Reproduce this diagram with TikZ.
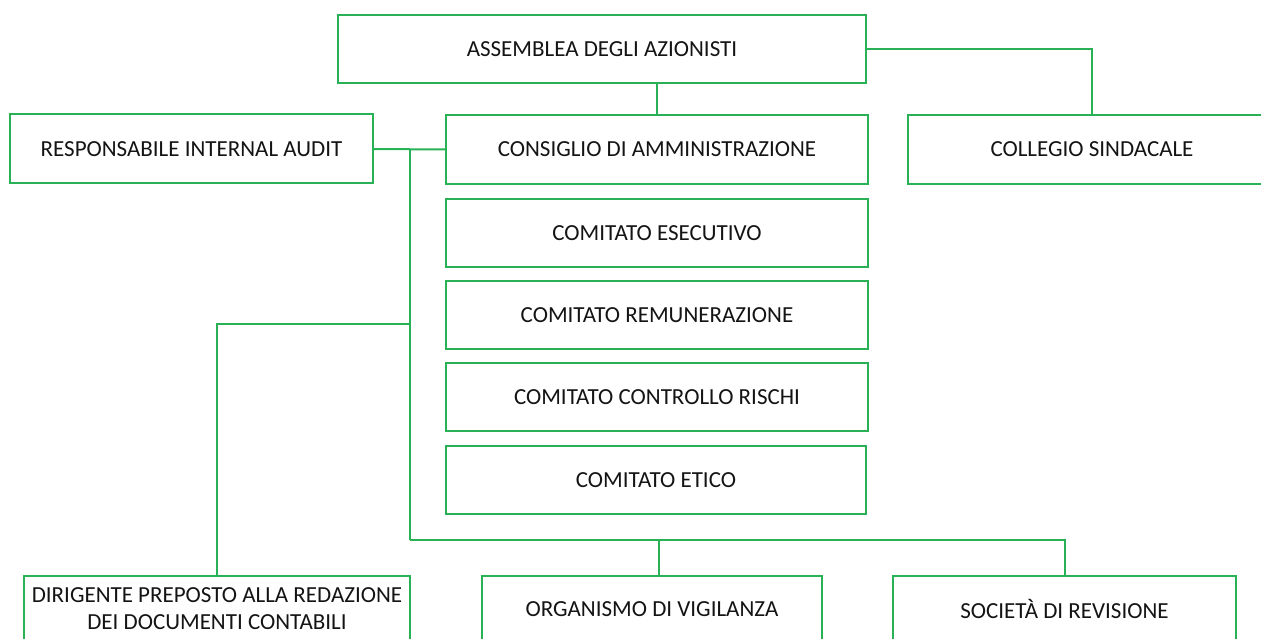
\documentclass[tikz,border=0pt]{standalone}
\usepackage{fontspec}
\setmainfont{Carlito}
\definecolor{boxgreen}{RGB}{40,178,85}
\definecolor{txt}{RGB}{20,20,20}
\tikzset{
  orgbox/.style={draw=boxgreen, line width=2pt, fill=white, rectangle, inner sep=0pt,
    text=txt, font=\fontsize{23}{27}\selectfont, align=center},
  link/.style={draw=boxgreen, line width=2pt}
}
\begin{document}
\begin{tikzpicture}[x=1pt,y=-1pt]
\useasboundingbox (0,0) rectangle (1261,639);
\clip (0,0) rectangle (1261,639);
% boxes: centers from pixel coordinates
\node[orgbox, minimum width=528pt, minimum height=68pt] (ass) at (602,49) {ASSEMBLEA DEGLI AZIONISTI};
\node[orgbox, minimum width=363pt, minimum height=69pt] (ria) at (191.5,149) {RESPONSABILE INTERNAL AUDIT};
\node[orgbox, minimum width=422pt, minimum height=69pt] (cons) at (657,149.5) {CONSIGLIO DI AMMINISTRAZIONE};
\node[orgbox, minimum width=368pt, minimum height=69pt] (coll) at (1092,149.5) {COLLEGIO SINDACALE};
\node[orgbox, minimum width=422pt, minimum height=68pt] (ese) at (657,233) {COMITATO ESECUTIVO};
\node[orgbox, minimum width=422pt, minimum height=68pt] (rem) at (657,315) {COMITATO REMUNERAZIONE};
\node[orgbox, minimum width=422pt, minimum height=68pt] (ctr) at (657,397) {COMITATO CONTROLLO RISCHI};
\node[orgbox, minimum width=420pt, minimum height=68pt] (eti) at (656,480) {COMITATO ETICO};
\node[orgbox, minimum width=386pt, minimum height=66pt] (dir) at (217,609) {DIRIGENTE PREPOSTO ALLA REDAZIONE\\DEI DOCUMENTI CONTABILI};
\node[orgbox, minimum width=340pt, minimum height=66pt] (org) at (652,609) {ORGANISMO DI VIGILANZA};
\node[orgbox, minimum width=343pt, minimum height=66pt] (soc) at (1064.5,609) {SOCIETÀ DI REVISIONE};
% junctions
\coordinate (j1) at (410,149);
\coordinate (j2) at (410,324);
\coordinate (j3) at (410,540);
\coordinate (jo) at (659,540);
\coordinate (js) at (1064.5,540);
% connectors
\draw[link] (ass.east) -| (coll.north);
\draw[link] (cons.north) -- (cons.north |- ass.south);
\draw[link] (ria.east) -- (cons.west);
\draw[link] (j1) -- (j3);
\draw[link] (j2) -| (dir.north);
\draw[link] (j3) -- (js) -- (soc.north);
\draw[link] (jo) -- (jo |- org.north);
\end{tikzpicture}
\end{document}
